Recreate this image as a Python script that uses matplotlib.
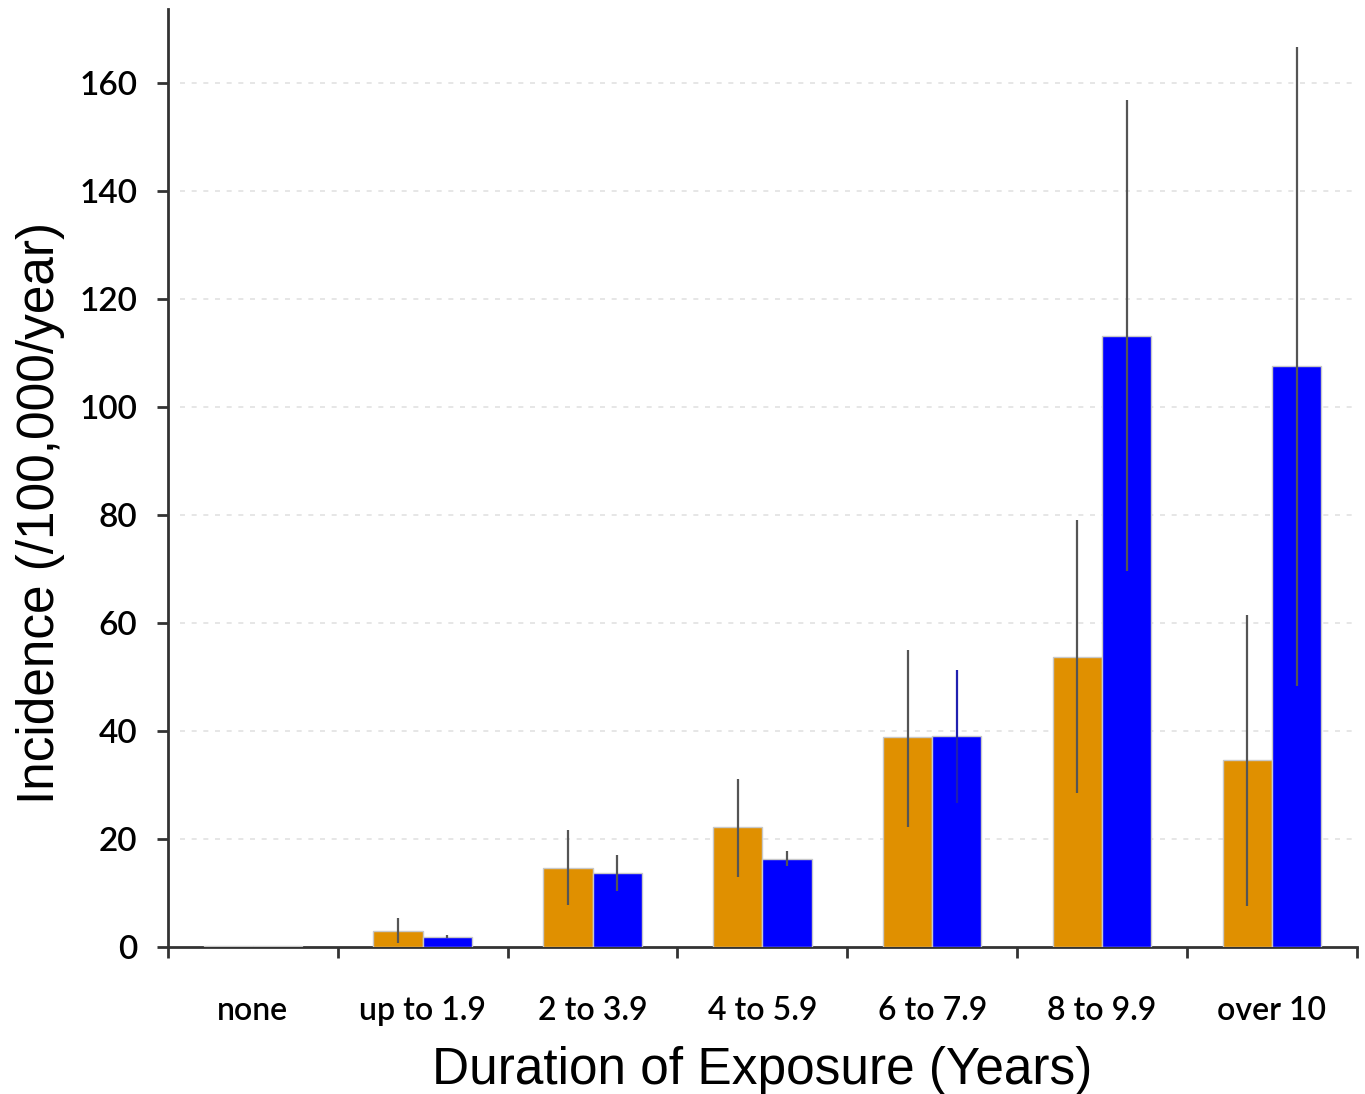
import matplotlib
matplotlib.use("Agg")
import matplotlib.pyplot as plt
import numpy as np

categories = ["none", "up to 1.9", "2 to 3.9", "4 to 5.9", "6 to 7.9", "8 to 9.9", "over 10"]
orange_vals = [0.15, 2.97, 14.6, 22.2, 38.8, 53.7, 34.7]
orange_lo = [0.0, 0.7, 7.8, 13.0, 22.3, 28.5, 7.5]
orange_hi = [0.15, 5.3, 21.6, 31.1, 54.9, 79.0, 61.5]
blue_vals = [0.15, 1.9, 13.7, 16.3, 39.1, 113.2, 107.5]
blue_lo = [0.0, 1.6, 10.3, 14.9, 26.7, 69.6, 48.4]
blue_hi = [0.15, 2.2, 17.0, 17.8, 51.2, 156.8, 166.7]
yticks = [0, 20, 40, 60, 80, 100, 120, 140, 160]

fig = plt.figure(figsize=(13.65, 10.94), dpi=100)
ax = fig.add_axes([0.123, 0.1344, 0.871, 0.857])

x = np.arange(len(categories))
w = 0.29
ocol = "#E09000"
bcol = "#0000FF"
ax.bar(x - w/2, orange_vals, w, color=ocol, edgecolor="#c8c8c8", linewidth=1, zorder=3)
ax.bar(x + w/2, blue_vals, w, color=bcol, edgecolor="#c8c8c8", linewidth=1, zorder=3)
for i in range(1, len(categories)):
    ax.vlines(x[i] - w/2, orange_lo[i], orange_hi[i], color="#555555", lw=1.6, zorder=4)
    bc = "#2020b0" if categories[i] == "6 to 7.9" else "#555555"
    ax.vlines(x[i] + w/2, blue_lo[i], blue_hi[i], color=bc, lw=1.6, zorder=4)

ax.set_xlim(-0.5, len(categories) - 0.5)
ax.set_ylim(0, 173.6)
ax.set_yticks(yticks)
ax.set_yticklabels([str(v) for v in yticks], fontfamily="Lato", fontsize=24, fontweight="semibold")
ax.set_xticks(x)
ax.set_xticklabels(categories, fontfamily="Lato", fontsize=23, fontweight="semibold")
ax.set_xticks(np.arange(-0.5, len(categories)), minor=True)
ax.tick_params(axis="x", which="major", length=0, pad=35)
ax.tick_params(axis="x", which="minor", length=8, width=2, direction="out", color="#333333")
ax.tick_params(axis="y", length=8, width=2, direction="out", pad=14, color="#333333")

for yv in yticks[1:]:
    ax.plot([-0.43, len(categories) - 0.5], [yv, yv], color="#e2e2e2", lw=1.2,
            linestyle=(0, (3, 4)), zorder=1)

for s in ["top", "right"]:
    ax.spines[s].set_visible(False)
ax.spines["left"].set_linewidth(2)
ax.spines["bottom"].set_linewidth(2)
ax.spines["left"].set_color("#333333")
ax.spines["bottom"].set_color("#333333")

ax.set_xlabel("Duration of Exposure (Years)", fontfamily="Liberation Sans", fontsize=37, labelpad=15)
ax.set_ylabel("Incidence (/100,000/year)", fontfamily="Liberation Sans", fontsize=37, labelpad=10)
ax.yaxis.label.set_y(0.463)

fig.savefig("out.png", dpi=100)
